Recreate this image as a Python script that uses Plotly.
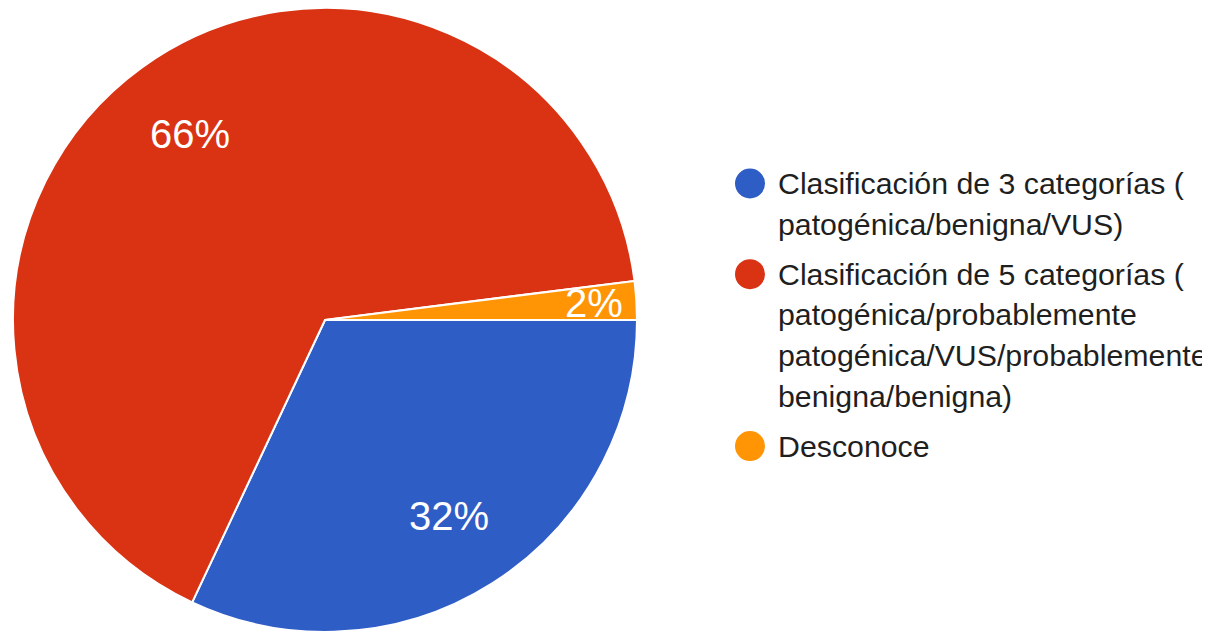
import math
import plotly.graph_objects as go

# survey answers (share of respondents, %)
labels = [
    "Clasificación de 3 categorías ( patogénica/benigna/VUS)",
    "Clasificación de 5 categorías ( patogénica/probablemente patogénica/VUS/probablemente benigna/benigna)",
    "Desconoce",
]
values = [32, 66, 2]
colors = ["#2F5DC6", "#D93314", "#FF9405"]

# legend text, wrapped as in the original
legend_lines = [
    ["Clasificación de 3 categorías (", "patogénica/benigna/VUS)"],
    ["Clasificación de 5 categorías (", "patogénica/probablemente",
     "patogénica/VUS/probablemente", "benigna/benigna)"],
    ["Desconoce"],
]

W, H = 1210, 631
PAGE = 8  # body margin of the written html page

# pie geometry in page pixels
cx, cy, r = 325, 320, 312
label_r = [0.745, 0.74, 0.867]  # how far out each percentage sits


def px(x):
    return (x - PAGE) / W


def py(y):
    return 1 - (y - PAGE) / H


fig = go.Figure()
fig.add_trace(go.Pie(
    labels=labels,
    values=values,
    sort=False,
    direction="clockwise",
    rotation=90,
    marker=dict(colors=colors, line=dict(color="white", width=2)),
    textinfo="none",
    domain=dict(x=[px(cx - r), px(cx + r)], y=[max(0, py(cy + r)), py(cy - r)]),
    showlegend=False,
    hoverinfo="label+percent",
))

annotations = []

# percentage labels, placed along each slice's middle angle
total = sum(values)
start = 0.0
for v, fr in zip(values, label_r):
    mid = math.radians((start + v / 2) / total * 360)  # clockwise from 3 o'clock
    start += v
    annotations.append(dict(
        text=f"{round(100 * v / total)}%", xref="paper", yref="paper",
        x=px(cx + fr * 311 * math.cos(mid)), y=py(cy + fr * 311 * math.sin(mid)),
        xanchor="center", yanchor="middle", showarrow=False,
        font=dict(family="Liberation Sans, Arial", size=40, color="white"),
    ))

# hand-drawn legend: coloured dots + wrapped labels
font_size = 30.3
line_h = 40.6
entry_gap = 9.5
y = 183.5  # centre of first line, page px
shapes = []
for color, lines in zip(colors, legend_lines):
    shapes.append(dict(
        type="circle", xref="paper", yref="paper",
        xsizemode="pixel", ysizemode="pixel",
        xanchor=px(750), yanchor=py(y),
        x0=-15, x1=15, y0=-15, y1=15,
        fillcolor=color, line=dict(width=0),
    ))
    for line in lines:
        annotations.append(dict(
            text=line, xref="paper", yref="paper",
            x=px(776), y=py(y),
            xanchor="left", yanchor="middle",
            showarrow=False,
            font=dict(family="Liberation Sans, Arial", size=font_size, color="#1F1F1F"),
        ))
        y += line_h
    y += entry_gap

fig.update_layout(
    width=W,
    height=H,
    margin=dict(l=0, r=0, t=0, b=0),
    paper_bgcolor="white",
    plot_bgcolor="white",
    shapes=shapes,
    annotations=annotations,
)

fig.write_html("out.html")
